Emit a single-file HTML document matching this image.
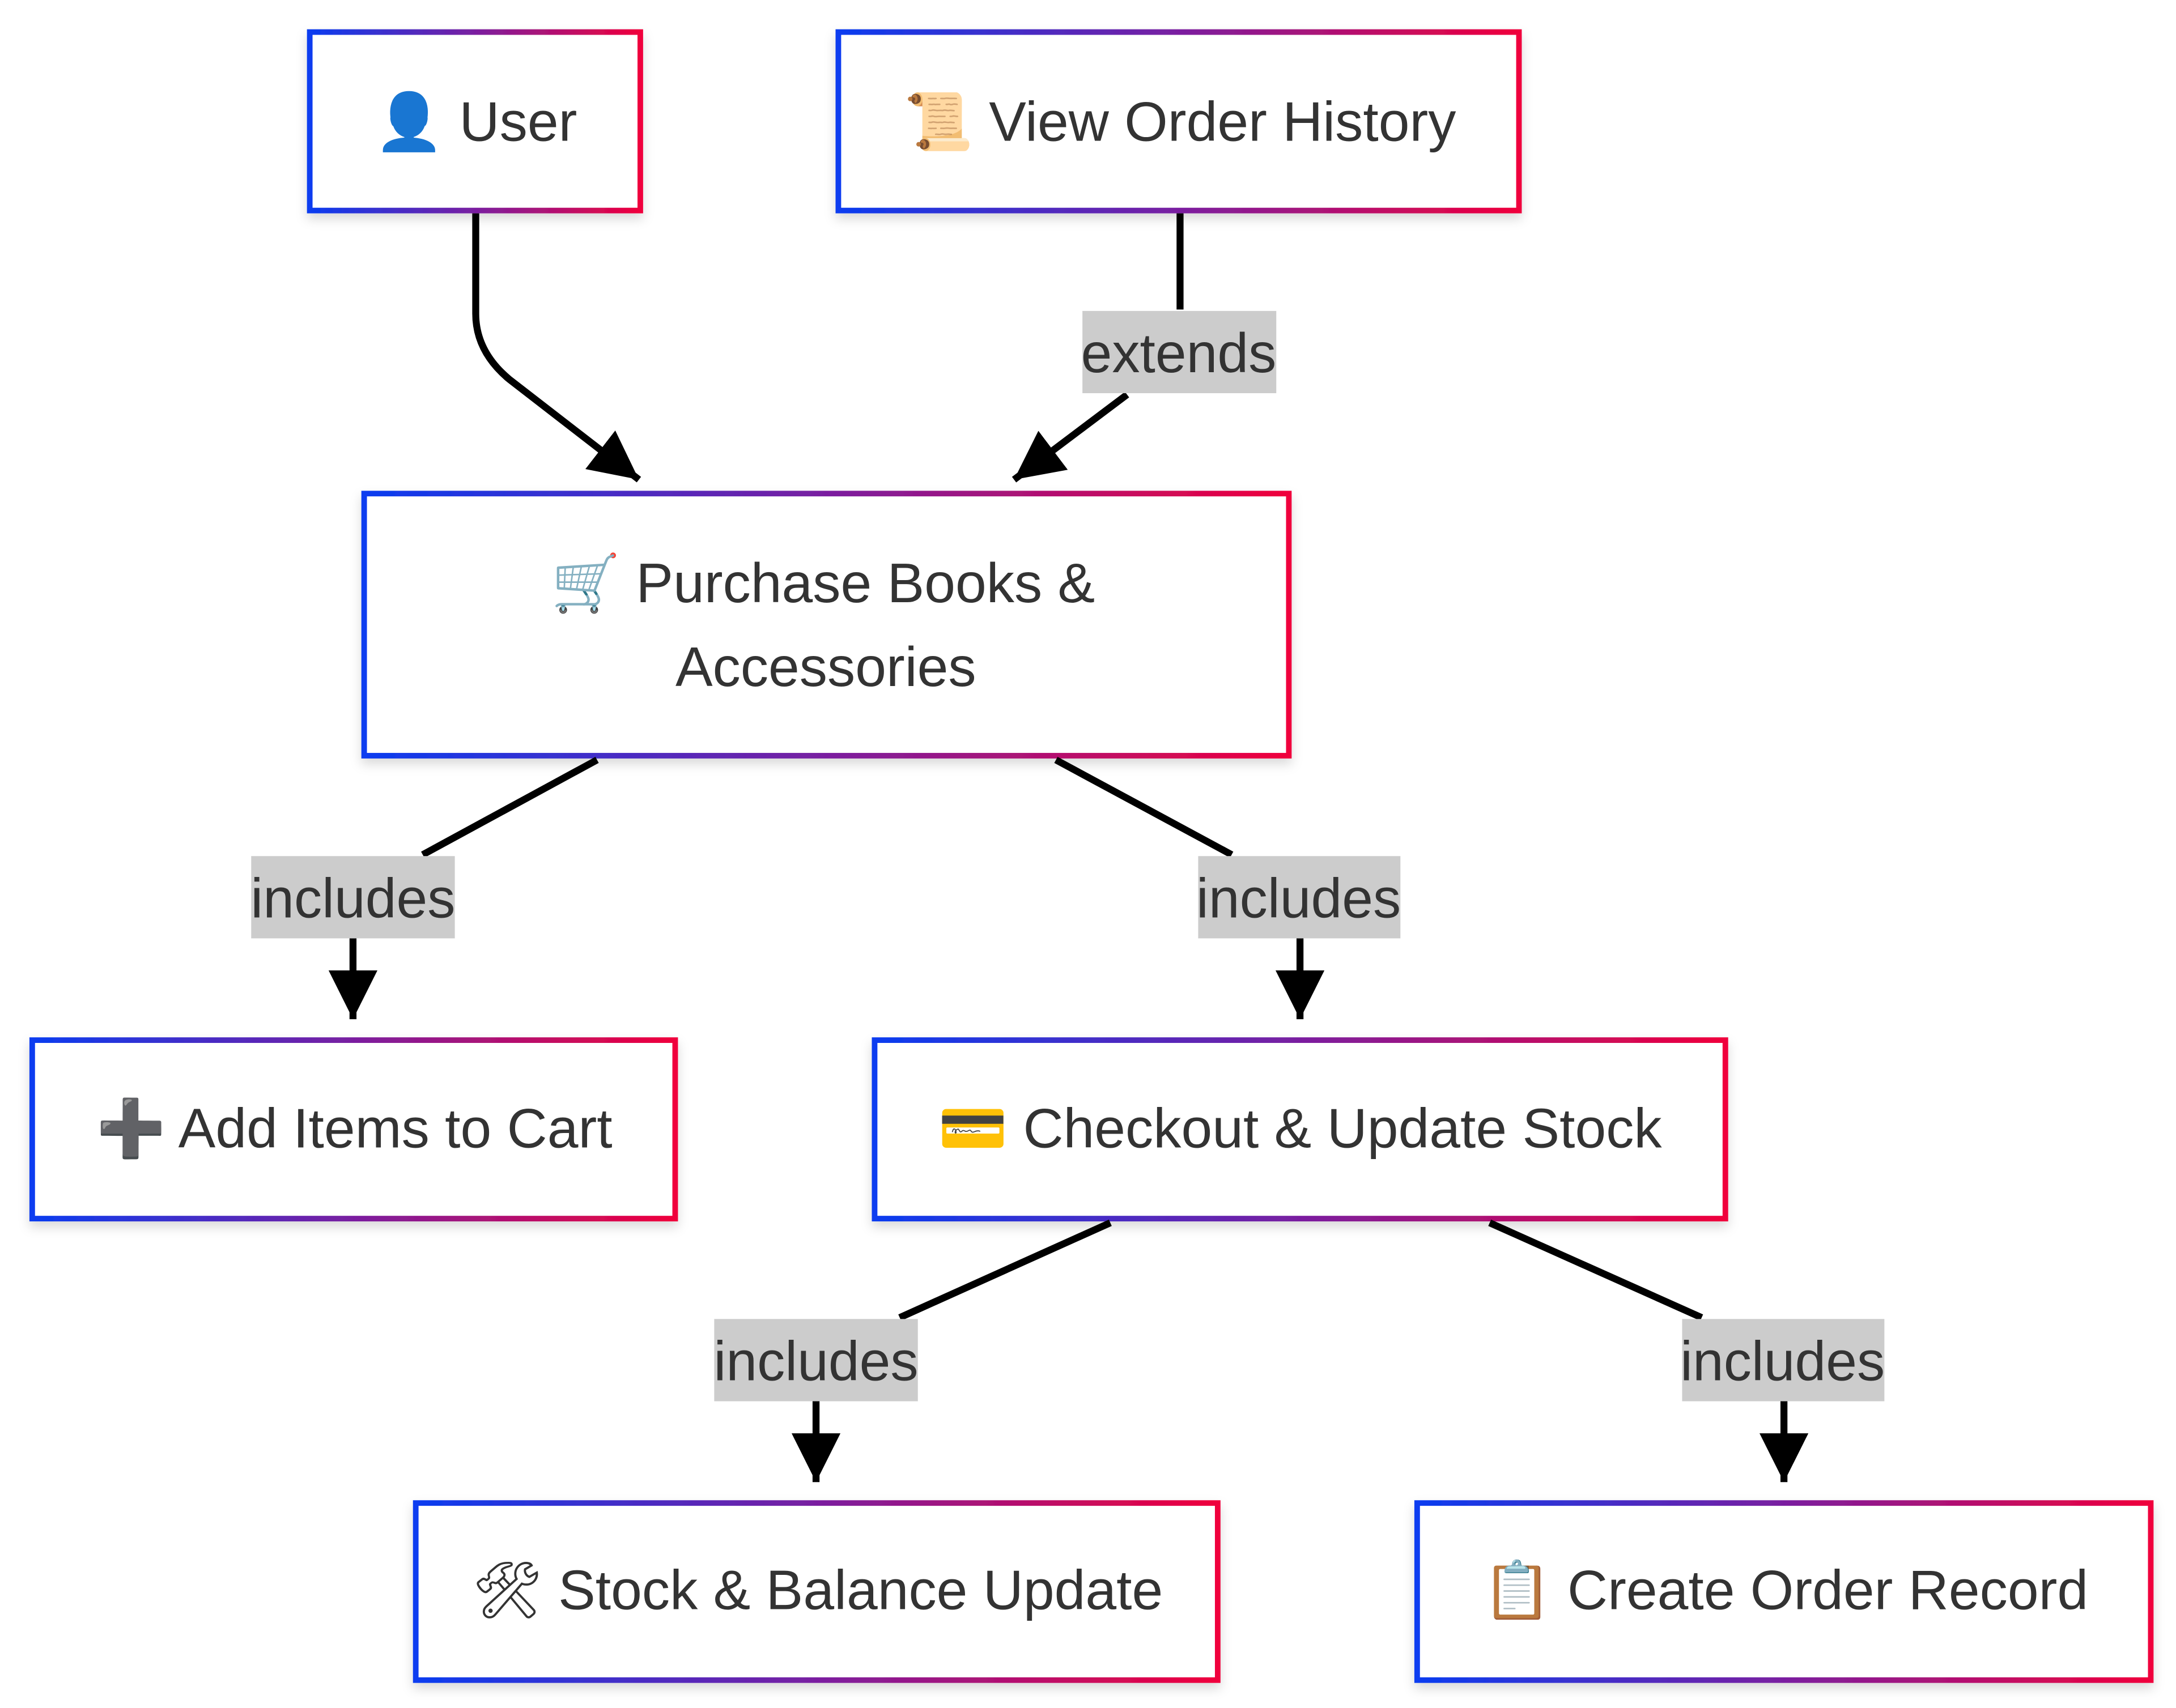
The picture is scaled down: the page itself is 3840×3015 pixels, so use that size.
<!DOCTYPE html>
<html><head><meta charset="utf-8"><style>
html,body{margin:0;padding:0;background:#fff;}
svg{display:block;}
text{font-family:"Liberation Sans","Noto Sans CJK SC","DejaVu Sans",sans-serif;fill:#333;}
</style></head><body>
<svg width="3840" height="3015" viewBox="0 0 1560 1225" xmlns="http://www.w3.org/2000/svg">
<defs>
<linearGradient id="g" x1="0" y1="0" x2="1" y2="0">
<stop offset="0" stop-color="#0a3cf0"/><stop offset="0.5" stop-color="#7a1fa0"/><stop offset="1" stop-color="#f0003c"/>
</linearGradient>
<filter id="sh" x="-10%" y="-10%" width="120%" height="130%"><feDropShadow dx="0" dy="4" stdDeviation="4" flood-color="#000" flood-opacity="0.15"/></filter>
<marker id="a" viewBox="0 0 10 10" refX="10" refY="5" markerWidth="7" markerHeight="7" markerUnits="strokeWidth" orient="auto"><path d="M0,0 L10,5 L0,10 z" fill="#000"/></marker>
</defs>
<g fill="#fff" stroke="url(#g)" stroke-width="4" filter="url(#sh)">
<rect x="222" y="23" width="237" height="128"/>
<rect x="601" y="23" width="488" height="128"/>
<rect x="261" y="354" width="663" height="188"/>
<rect x="23" y="746" width="461" height="128"/>
<rect x="627" y="746" width="610" height="128"/>
<rect x="298" y="1078" width="575" height="127"/>
<rect x="1016" y="1078" width="526" height="127"/>
</g>
<g stroke="#000" stroke-width="5" fill="none">
<path d="M341,153 L341,225 Q341,252 365,272 L458,344" marker-end="url(#a)"/>
<path d="M846,153 L846,222"/>
<path d="M808,283 L727,344" marker-end="url(#a)"/>
<path d="M428,545 L303,613"/>
<path d="M253,673 L253,731" marker-end="url(#a)"/>
<path d="M757,545 L883,613"/>
<path d="M932,673 L932,731" marker-end="url(#a)"/>
<path d="M796,877 L645,945"/>
<path d="M585,1005 L585,1063" marker-end="url(#a)"/>
<path d="M1068,877 L1220,945"/>
<path d="M1279,1005 L1279,1063" marker-end="url(#a)"/>
</g>
<g fill="#cccccc">
<rect x="776" y="223" width="139" height="59"/>
<rect x="180" y="614" width="146" height="59"/>
<rect x="859" y="614" width="145" height="59"/>
<rect x="512" y="946" width="146" height="59"/>
<rect x="1206" y="946" width="145" height="59"/>
</g>
<g font-size="40" text-anchor="middle">
<text x="845" y="267">extends</text>
<text x="253" y="658">includes</text>
<text x="931" y="658">includes</text>
<text x="585" y="990">includes</text>
<text x="1278" y="990">includes</text>
</g>
<g font-size="40" text-anchor="middle">
<text x="341" y="101">👤 User</text>
<text x="846" y="101">📜 View Order History</text>
<text x="590" y="432">🛒 Purchase Books &amp;</text>
<text x="592" y="492">Accessories</text>
<text x="254" y="823">➕ Add Items to Cart</text>
<text x="932" y="823">💳 Checkout &amp; Update Stock</text>
<text x="586" y="1154">🛠 Stock &amp; Balance Update</text>
<text x="1280" y="1154">📋 Create Order Record</text>
</g>
</svg>
</body></html>
